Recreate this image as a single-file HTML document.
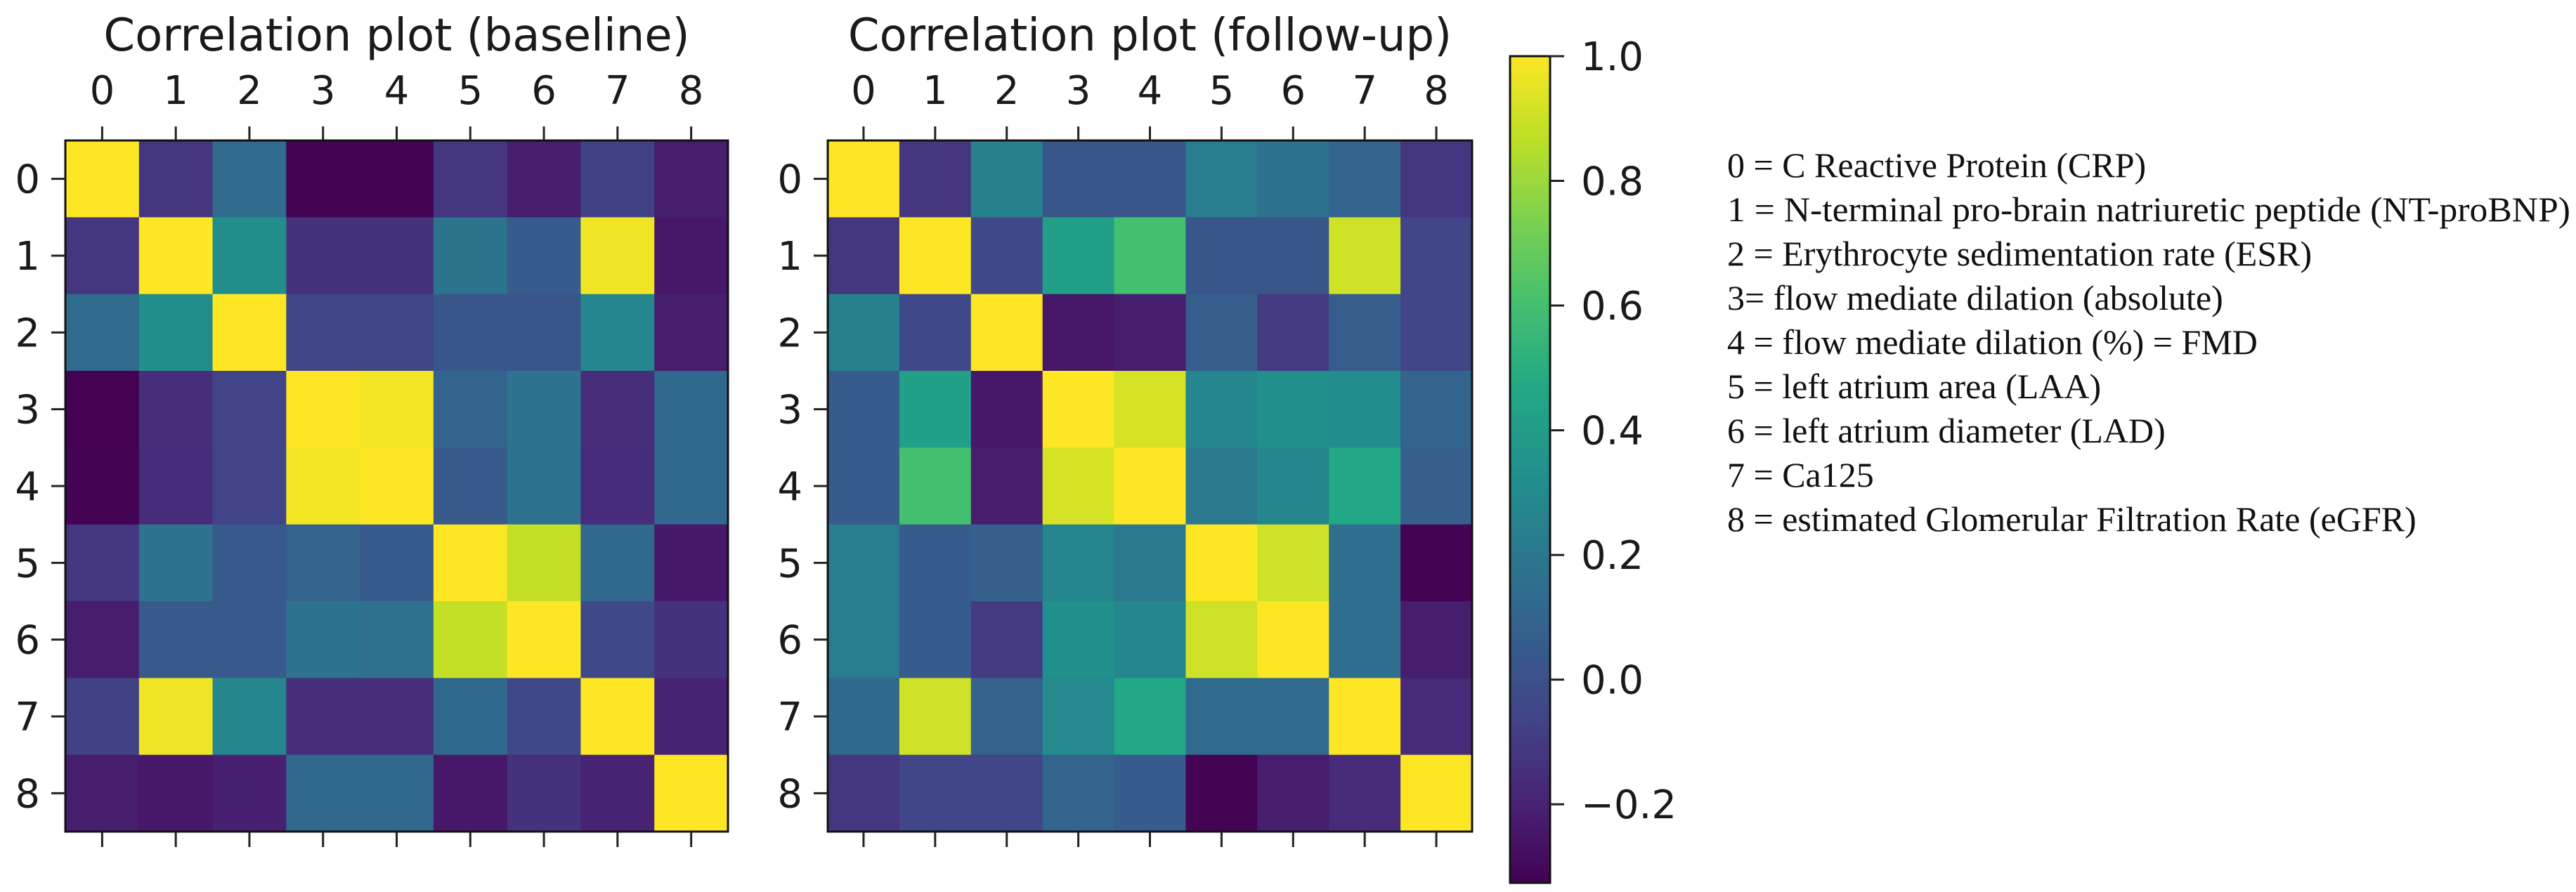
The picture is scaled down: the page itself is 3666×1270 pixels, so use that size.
<!DOCTYPE html>
<html>
<head>
<meta charset="utf-8">
<style>
  html, body { margin: 0; padding: 0; background: #ffffff; }
  svg { display: block; }
  .tick { font-family: "DejaVu Sans", "Liberation Sans", sans-serif; font-size: 56px; fill: #1a1a1a; }
  .title { font-family: "DejaVu Sans", "Liberation Sans", sans-serif; font-size: 64px; fill: #1a1a1a; }
  .legend { font-family: "Liberation Serif", serif; font-size: 50px; fill: #111; }
</style>
</head>
<body>
<svg id="chart" xmlns="http://www.w3.org/2000/svg" width="3666" height="1270" viewBox="0 0 3666 1270">
  <defs>
    <linearGradient id="cbgrad" x1="0" y1="1" x2="0" y2="0"></linearGradient>
  </defs>
  <g id="legend">
    <text class="legend" x="2458" y="252">0 = C Reactive Protein (CRP)</text>
    <text class="legend" x="2458" y="315" textLength="1200" lengthAdjust="spacingAndGlyphs">1 = N-terminal pro-brain natriuretic peptide (NT-proBNP)</text>
    <text class="legend" x="2458" y="378">2 = Erythrocyte sedimentation rate (ESR)</text>
    <text class="legend" x="2458" y="441">3= flow mediate dilation (absolute)</text>
    <text class="legend" x="2458" y="504">4 = flow mediate dilation (%) = FMD</text>
    <text class="legend" x="2458" y="567">5 = left atrium area (LAA)</text>
    <text class="legend" x="2458" y="630">6 = left atrium diameter (LAD)</text>
    <text class="legend" x="2458" y="693">7 = Ca125</text>
    <text class="legend" x="2458" y="756">8 = estimated Glomerular Filtration Rate (eGFR)</text>
  </g>
</svg>
<script>
const categories = ["0","1","2","3","4","5","6","7","8"];
const baselineValues = [
  [1.00,-0.12, 0.13,-0.32,-0.32,-0.12,-0.22,-0.07,-0.22],
  [-0.12,1.00, 0.32,-0.14,-0.14, 0.18, 0.05, 0.97,-0.24],
  [0.13, 0.32, 1.00,-0.05,-0.05, 0.03, 0.03, 0.28,-0.22],
  [-0.33,-0.15,-0.06,1.00, 0.98, 0.10, 0.17,-0.15, 0.12],
  [-0.32,-0.16,-0.06,0.98, 1.00, 0.04, 0.17,-0.16, 0.12],
  [-0.12,0.17, 0.04, 0.10, 0.05, 1.00, 0.88, 0.12,-0.24],
  [-0.22,0.04, 0.04, 0.17, 0.16, 0.88, 1.00,-0.04,-0.14],
  [-0.07,0.97, 0.28,-0.15,-0.15, 0.12,-0.04, 1.00,-0.20],
  [-0.22,-0.24,-0.21,0.12, 0.12,-0.24,-0.14,-0.20, 1.00]
];
const followupValues = [
  [1.00,-0.12, 0.25, 0.03, 0.03, 0.23, 0.17, 0.10,-0.12],
  [-0.12,1.00,-0.04, 0.42, 0.60, 0.03, 0.03, 0.90,-0.05],
  [0.25,-0.04, 1.00,-0.24,-0.22, 0.06,-0.10, 0.06,-0.05],
  [0.05, 0.42,-0.24, 1.00, 0.92, 0.28, 0.33, 0.31, 0.10],
  [0.05, 0.60,-0.22, 0.92, 1.00, 0.21, 0.28, 0.47, 0.07],
  [0.23, 0.05, 0.07, 0.28, 0.21, 1.00, 0.90, 0.15,-0.32],
  [0.23, 0.05,-0.10, 0.33, 0.28, 0.90, 1.00, 0.15,-0.22],
  [0.12, 0.90, 0.08, 0.30, 0.47, 0.13, 0.13, 1.00,-0.17],
  [-0.12,-0.05,-0.05,0.10, 0.05,-0.32,-0.22,-0.17, 1.00]
];
const colorbarTicks = [1.0, 0.8, 0.6, 0.4, 0.2, 0.0, -0.2];
const colorbarTickLabels = ["1.0","0.8","0.6","0.4","0.2","0.0","\u22120.2"];
const vmin = -0.326, vmax = 1.0;

const NS = "http://www.w3.org/2000/svg";
const svg = document.getElementById("chart");
const viridis = ["#440154","#482475","#414487","#355f8d","#2a788e","#21918c","#22a884","#44bf70","#7ad151","#bddf26","#fde725"];
function hex2rgb(h){return [parseInt(h.substr(1,2),16),parseInt(h.substr(3,2),16),parseInt(h.substr(5,2),16)];}
function colorAt(t){
  t = Math.max(0, Math.min(1, t));
  const p = t*10, i = Math.min(9, Math.floor(p)), f = p - i;
  const a = hex2rgb(viridis[i]), b = hex2rgb(viridis[i+1]);
  return "rgb(" + a.map((v,k)=>Math.round(v+(b[k]-v)*f)).join(",") + ")";
}
function colorScale(v){ return colorAt((v - vmin)/(vmax - vmin)); }
function mk(tag, attrs, parent){
  const e = document.createElementNS(NS, tag);
  for (const k in attrs) e.setAttribute(k, attrs[k]);
  (parent || svg).appendChild(e);
  return e;
}

function drawHeatmap(values, x0, x1, y0, y1, title, prefix){
  const g = mk("g", {});
  
  
  const n = categories.length;
  const cw = (x1 - x0)/n, ch = (y1 - y0)/n;
  const xScale = i => x0 + i*cw;
  const yScale = i => y0 + i*ch;
  for (let r = 0; r < n; r++){
    for (let c = 0; c < n; c++){
      const cell = mk("rect", {x: xScale(c), y: yScale(r), width: cw + 0.6, height: ch + 0.6, fill: colorScale(values[r][c])}, g);
      
      
    }
  }
  const frame = mk("rect", {x: x0, y: y0, width: x1 - x0, height: y1 - y0, fill: "none", stroke: "#111", "stroke-width": 3}, g);
  
  
  for (let i = 0; i < n; i++){
    const cx = xScale(i) + cw/2, cy = yScale(i) + ch/2;
    mk("line", {x1: cx, y1: y0, x2: cx, y2: y0 - 20, stroke: "#222", "stroke-width": 3}, g);
    mk("line", {x1: cx, y1: y1, x2: cx, y2: y1 + 22, stroke: "#222", "stroke-width": 3}, g);
    mk("line", {x1: x0, y1: cy, x2: x0 - 20, y2: cy, stroke: "#222", "stroke-width": 3}, g);
    const tx = mk("text", {x: cx, y: 148, "text-anchor": "middle", class: "tick"}, g);
    tx.textContent = categories[i];
    
    
    const ty = mk("text", {x: x0 - 36, y: cy + 20, "text-anchor": "end", class: "tick"}, g);
    ty.textContent = categories[i];
    
    
  }
  const t = mk("text", {x: (x0 + x1)/2, y: 72, "text-anchor": "middle", class: "title"}, g);
  t.textContent = title;
  
  
}

drawHeatmap(baselineValues, 93, 1036, 200, 1184, "Correlation plot (baseline)", "baseline");
drawHeatmap(followupValues, 1178, 2095, 200, 1184, "Correlation plot (follow-up)", "follow-up");

const grad = document.getElementById("cbgrad");
for (let i = 0; i <= 40; i++){
  mk("stop", {offset: (i/40), "stop-color": colorAt(i/40)}, grad);
}
const cbTop = 80, cbBot = 1257, cbX0 = 2149, cbX1 = 2206;
const cbScale = v => cbBot - (v - vmin)/(vmax - vmin)*(cbBot - cbTop);
const cb = mk("g", {});


mk("rect", {x: cbX0, y: cbTop, width: cbX1 - cbX0, height: cbBot - cbTop, fill: "url(#cbgrad)", stroke: "#111", "stroke-width": 3}, cb);
colorbarTicks.forEach((v, i) => {
  const y = cbScale(v);
  mk("line", {x1: cbX1, y1: y, x2: cbX1 + 20, y2: y, stroke: "#222", "stroke-width": 3}, cb);
  const t = mk("text", {x: 2250, y: y + 20, class: "tick"}, cb);
  t.textContent = colorbarTickLabels[i];
  
  
});
</script>
</body>
</html>
